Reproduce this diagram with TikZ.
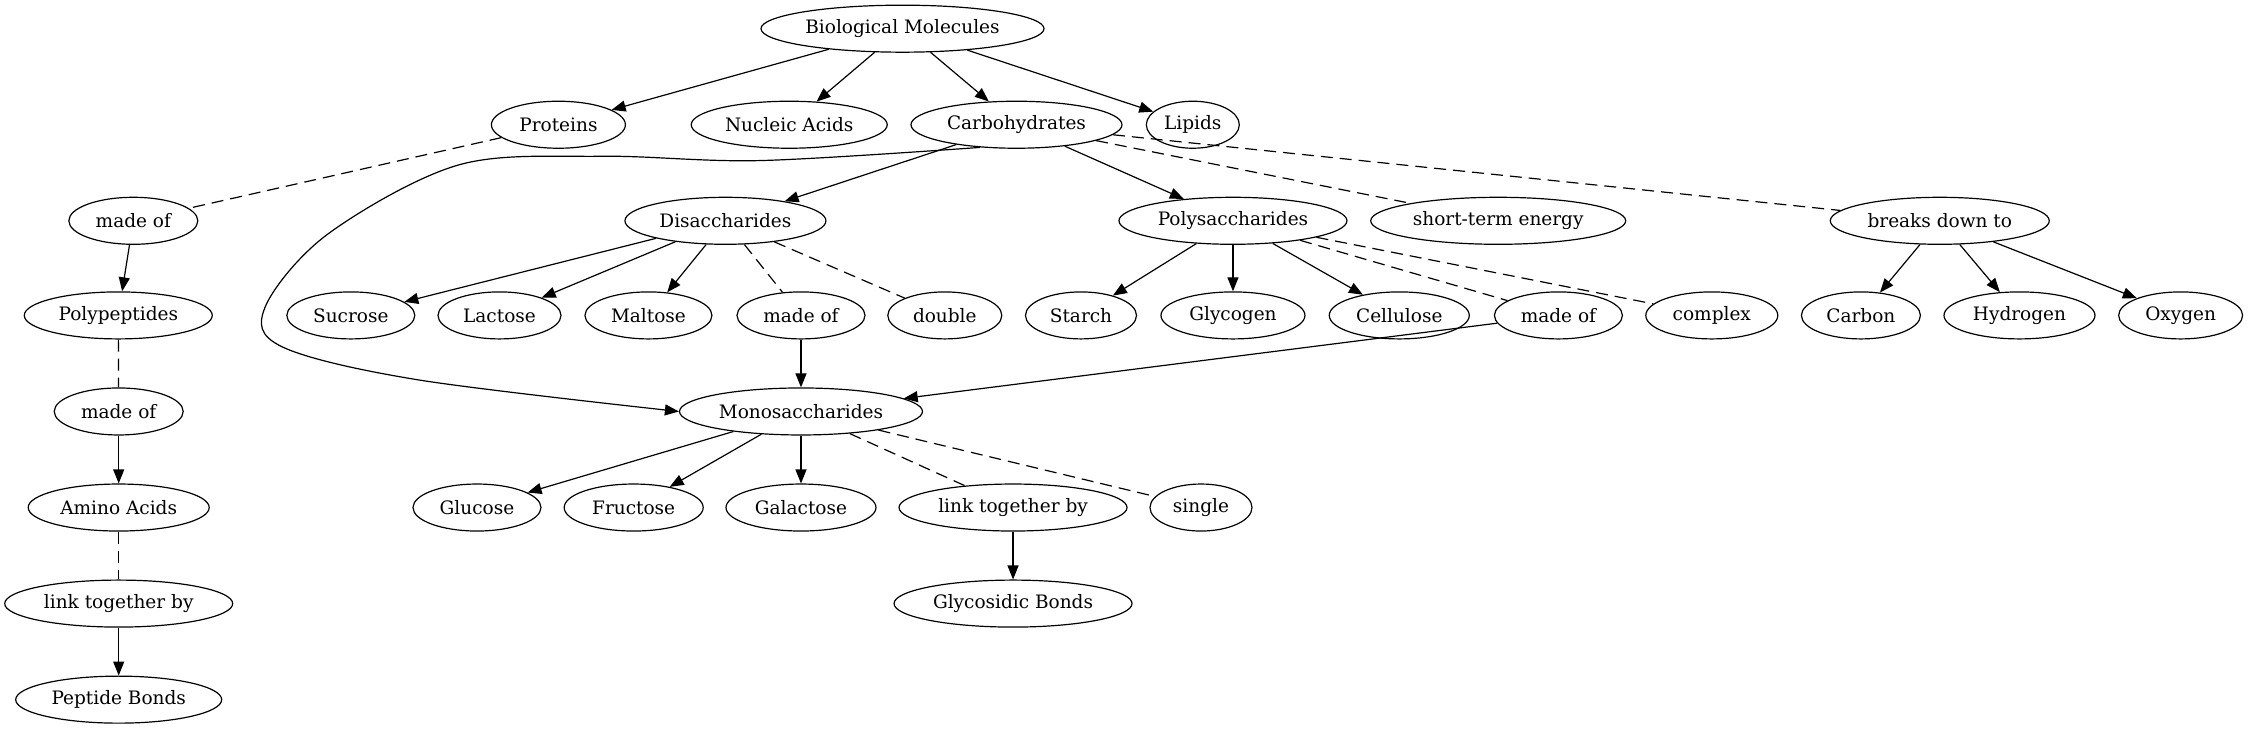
\documentclass[tikz,border=0pt]{standalone}
\usepackage{fontspec}
\setmainfont{DejaVu Serif}
\usetikzlibrary{shapes.geometric,arrows.meta}
\begin{document}
\begin{tikzpicture}[x=1.4337pt,y=-1.4337pt,
  nd/.style={ellipse,draw,line width=1.2pt,minimum height=47pt,inner sep=0pt,
    font=\fontsize{18.5}{22}\selectfont,minimum width=#1pt},
  arr/.style={line width=1.2pt,-{Triangle[length=14pt,width=11pt]}},
  dsh/.style={line width=1.2pt,dash pattern=on 12pt off 7pt}]
\useasboundingbox (0,0) rectangle (1568,510);
% row 0
\node[nd=283] (bm) at (629.5,20) {Biological Molecules};
% row 1
\node[nd=134] (prot) at (389.5,87) {Proteins};
\node[nd=196] (nuc) at (550.5,87) {Nucleic Acids};
\node[nd=211] (carb) at (709,87) {Carbohydrates};
\node[nd=93] (lip) at (832,87) {Lipids};
% row 2
\node[nd=129] (madeA) at (93,154) {made of};
\node[nd=201] (dis) at (506,154) {Disaccharides};
\node[nd=228] (poly) at (860,154) {Polysaccharides};
\node[nd=255] (ste) at (1045,154) {short-term energy};
\node[nd=219] (bdt) at (1353,154) {breaks down to};
% row 3
\node[nd=188] (pp) at (82.5,220) {Polypeptides};
\node[nd=128] (suc) at (244.7,220) {Sucrose};
\node[nd=123] (lac) at (348.4,220) {Lactose};
\node[nd=127] (mal) at (452.3,220) {Maltose};
\node[nd=128] (madeD) at (558.7,220) {made of};
\node[nd=114] (dbl) at (659,220) {double};
\node[nd=111] (sta) at (754,220) {Starch};
\node[nd=144] (gly) at (860,220) {Glycogen};
\node[nd=140] (cel) at (976,220) {Cellulose};
\node[nd=128] (madeP) at (1087,220) {made of};
\node[nd=132] (cpx) at (1194,220) {complex};
\node[nd=119] (car) at (1298,220) {Carbon};
\node[nd=151] (hyd) at (1408.6,220) {Hydrogen};
\node[nd=124] (oxy) at (1521,220) {Oxygen};
% row 4
\node[nd=129] (madeB) at (82.8,287) {made of};
\node[nd=243] (mono) at (558.7,287) {Monosaccharides};
% row 5
\node[nd=181] (aa) at (82.8,354) {Amino Acids};
\node[nd=128] (glu) at (332.7,354) {Glucose};
\node[nd=139] (fru) at (442,354) {Fructose};
\node[nd=150] (gal) at (558.7,354) {Galactose};
\node[nd=228] (linkM) at (706.6,354) {link together by};
\node[nd=102] (sgl) at (837.7,354) {single};
% row 6
\node[nd=228] (linkA) at (82.8,421) {link together by};
\node[nd=238] (gb) at (706.6,421) {Glycosidic Bonds};
% row 7
\node[nd=206] (pb) at (82.8,488) {Peptide Bonds};

% edges from Biological Molecules
\draw[arr] (bm) -- (prot);
\draw[arr] (bm) -- (nuc);
\draw[arr] (bm) -- (carb);
\draw[arr] (bm) -- (lip);
% protein chain
\draw[dsh] (prot) -- (madeA);
\draw[arr] (madeA) -- (pp);
\draw[dsh] (pp) -- (madeB);
\draw[arr] (madeB) -- (aa);
\draw[dsh] (aa) -- (linkA);
\draw[arr] (linkA) -- (pb);
% carbohydrates
\draw[arr] (carb) -- (dis);
\draw[arr] (carb) -- (poly);
\draw[dsh] (carb) -- (ste);
\draw[dsh] (carb) -- (bdt);
\draw[arr] plot[smooth,tension=0.55] coordinates {(carb.212) (530,112) (420,109) (320,115) (229,163) (185,214) (197,242) (292,265) (mono.west)};
% breaks down to
\draw[arr] (bdt) -- (car);
\draw[arr] (bdt) -- (hyd);
\draw[arr] (bdt) -- (oxy);
% disaccharides
\draw[arr] (dis) -- (suc);
\draw[arr] (dis) -- (lac);
\draw[arr] (dis) -- (mal);
\draw[dsh] (dis) -- (madeD);
\draw[dsh] (dis) -- (dbl);
\draw[arr] (madeD) -- (mono);
% polysaccharides
\draw[arr] (poly) -- (sta);
\draw[arr] (poly) -- (gly);
\draw[arr] (poly) -- (cel);
\draw[dsh] (poly) -- (madeP);
\draw[dsh] (poly) -- (cpx);
\draw[arr] (madeP) -- (mono);
% monosaccharides
\draw[arr] (mono) -- (glu);
\draw[arr] (mono) -- (fru);
\draw[arr] (mono) -- (gal);
\draw[dsh] (mono) -- (linkM);
\draw[dsh] (mono) -- (sgl);
\draw[arr] (linkM) -- (gb);
\end{tikzpicture}
\end{document}
